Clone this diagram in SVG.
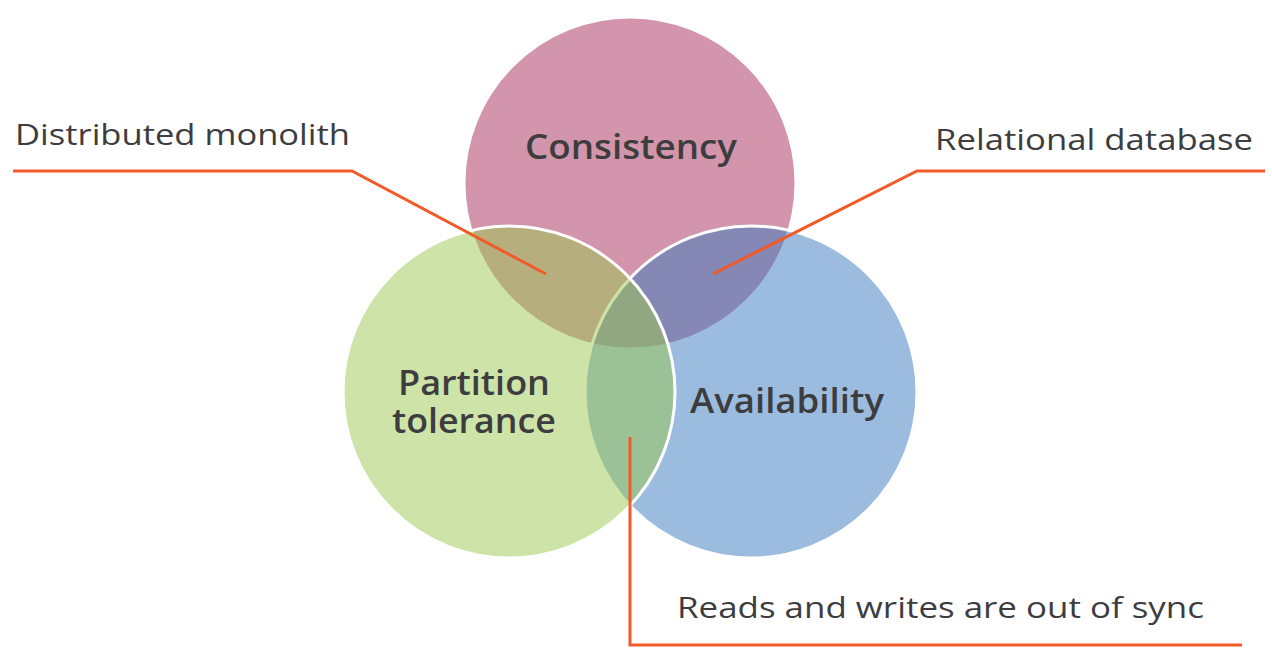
<svg xmlns="http://www.w3.org/2000/svg" width="1272" height="661" viewBox="0 0 1272 661">
<style>
.circ{stroke:#ffffff;stroke-width:3}
.lbl{font-family:"Open Sans","Liberation Sans",sans-serif;font-size:34px;font-weight:600;fill:#3d3d3f}
.call{font-family:"Open Sans","Liberation Sans",sans-serif;font-size:29px;font-weight:400;fill:#3d3d3f}
.conn{fill:none;stroke:#f15a29;stroke-width:3}
</style>
<rect width="1272" height="661" fill="#ffffff"/>
<g id="consistency">
<circle class="circ" cx="630" cy="183" r="166" fill="#d295ab"/>
<text class="lbl" x="631" y="159" text-anchor="middle" textLength="212" lengthAdjust="spacingAndGlyphs">Consistency</text>
</g>
<g id="availability">
<circle class="circ" cx="751" cy="392" r="166" fill="rgb(55,121,191)" fill-opacity="0.5"/>
</g>
<g id="partition">
<circle class="circ" cx="509" cy="392" r="166" fill="rgb(155,199,79)" fill-opacity="0.5"/>
</g>
<text class="lbl" x="787" y="413" text-anchor="middle" textLength="194" lengthAdjust="spacingAndGlyphs">Availability</text>
<text class="lbl" text-anchor="middle"><tspan x="474" y="395" textLength="152" lengthAdjust="spacingAndGlyphs">Partition</tspan><tspan x="474" y="433" textLength="164" lengthAdjust="spacingAndGlyphs">tolerance</tspan></text>
<g id="connectors">
<polyline class="conn" points="13,171 352,171 546,274"/>
<polyline class="conn" points="713,274 917,171 1265,171"/>
<polyline class="conn" points="630,437 630,645 1242,645"/>
</g>
<g id="label-distributed">
<text class="call" x="15" y="145" textLength="335" lengthAdjust="spacingAndGlyphs">Distributed monolith</text>
</g>
<g id="label-relational">
<text class="call" x="935" y="150" textLength="318" lengthAdjust="spacingAndGlyphs">Relational database</text>
</g>
<g id="label-reads">
<text class="call" x="677" y="618" textLength="527" lengthAdjust="spacingAndGlyphs">Reads and writes are out of sync</text>
</g>
</svg>
